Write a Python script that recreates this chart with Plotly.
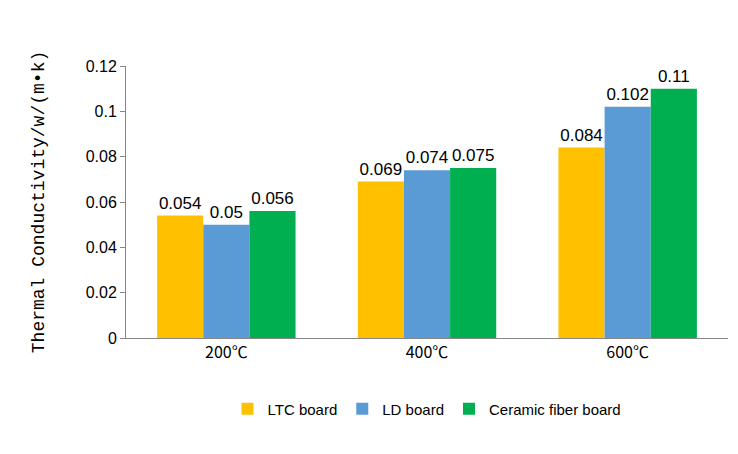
import plotly.graph_objects as go

categories = ["200℃", "400℃", "600℃"]
ltc = [0.054, 0.069, 0.084]
ld = [0.05, 0.074, 0.102]
ceramic = [0.056, 0.075, 0.11]
series = [("LTC board", ltc, "#ffc000"), ("LD board", ld, "#5b9bd5"), ("Ceramic fiber board", ceramic, "#00b050")]

fig = go.Figure()
for name, vals, col in series:
    fig.add_trace(go.Bar(
        x=categories, y=vals, name=name, marker_color=col, marker_line_width=0,
        text=[str(v) for v in vals], textposition="outside",
        textfont=dict(size=17, color="black", family="Liberation Sans"),
        cliponaxis=False,
    ))

fig.update_layout(
    width=738, height=454,
    barmode="group", bargap=0.31, bargroupgap=0,
    plot_bgcolor="white", paper_bgcolor="white",
    margin=dict(l=118, r=18, t=58, b=124),
    font=dict(family="Liberation Sans", size=16, color="black"),
    yaxis=dict(
        range=[0, 0.12], dtick=0.02, showgrid=False,
        showline=True, linecolor="#868686", ticks="outside", ticklen=5, tickcolor="#868686",
        title=dict(text="Thermal Conductivity/w/(m•k)", standoff=36,
                   font=dict(family="Liberation Mono", size=18)),
    ),
    xaxis=dict(
        showline=True, linecolor="#868686", ticks="",
        tickfont=dict(family="Noto Sans CJK SC", size=16),
    ),
    legend=dict(orientation="h", x=0.5, xanchor="center", y=-0.2, yanchor="top",
                font=dict(size=15), itemwidth=30),
)
fig.write_html("out.html")
